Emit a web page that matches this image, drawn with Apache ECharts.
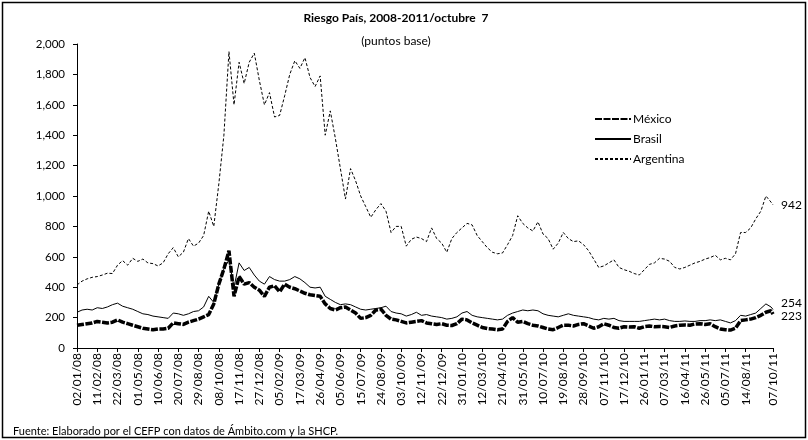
<!DOCTYPE html>
<html>
<head>
<meta charset="utf-8">
<script src="https://cdn.jsdelivr.net/npm/echarts@6/dist/echarts.min.js"></script>
<style>
  html, body { margin: 0; padding: 0; background: #fff; }
  #chart { width: 808px; height: 440px; }
</style>
</head>
<body>
<div id="chart"></div>
<script>
// días transcurridos desde el 02/01/08 (cada 10 días, más el último dato 07/10/11)
const days = [];
for (let d = 0; d <= 1370; d += 10) days.push(d);
days.push(1374);

const mexico = [
  150, 155, 160, 165, 175, 170, 165, 170, 185, 170,
  160, 150, 140, 130, 125, 120, 125, 125, 130, 165,
  160, 155, 170, 180, 190, 205, 220, 290, 420, 520,
  640, 340, 470, 420, 430, 400, 380, 340, 400, 410,
  370, 420, 400, 390, 375, 360, 350, 345, 340, 290,
  260, 250, 265, 270, 250, 230, 195, 200, 215, 250,
  255, 215, 190, 185, 175, 165, 170, 175, 180, 165,
  160, 155, 160, 150, 148, 160, 190, 185, 165, 150,
  135, 128, 125, 120, 125, 175, 200, 170, 175, 160,
  150, 145, 135, 125, 120, 135, 150, 150, 145, 155,
  160, 145, 130, 140, 160, 150, 135, 130, 140, 138,
  140, 130, 140, 145, 140, 142, 140, 135, 145, 150,
  152, 150, 158, 160, 155, 160, 140, 125, 120, 118,
  130, 180, 185, 190, 200, 215, 235, 245, 223
];

const brasil = [
  235, 250, 255, 250, 265, 260, 270, 285, 295, 275,
  265, 255, 240, 225, 220, 210, 205, 200, 195, 230,
  225, 215, 225, 240, 245, 270, 340, 300, 420, 520,
  580, 400, 560, 510, 530, 480, 440, 420, 470, 450,
  440, 440, 450, 470, 455, 430, 400, 395, 400, 340,
  320, 300, 285, 290, 285, 270, 255, 250, 255, 260,
  265, 275, 240, 230, 225, 210, 220, 235, 215, 220,
  210, 205, 200, 190, 195, 205, 230, 240, 215, 205,
  200, 195, 190, 185, 190, 215, 230, 240, 250, 245,
  250, 245, 225, 215, 210, 205, 215, 225, 215, 210,
  205, 200, 190, 185, 195, 190, 195, 180, 175, 175,
  175, 175, 180, 185, 190, 185, 190, 180, 175, 175,
  178, 175, 175, 180, 180, 185, 180, 185, 175, 165,
  180, 215, 210, 220, 230, 260, 290, 270, 254
];

const argentina = [
  415, 440, 455, 465, 470, 480, 492, 490, 545, 575,
  545, 590, 570, 585, 560, 555, 540, 560, 620, 660,
  600, 630, 720, 670, 690, 740, 900, 800, 1080, 1400,
  1950, 1600, 1880, 1740, 1880, 1940, 1760, 1600, 1680, 1520,
  1530, 1660, 1800, 1890, 1840, 1910, 1780, 1720, 1790, 1400,
  1560, 1380, 1180, 980, 1180, 1100, 1000, 930, 860, 910,
  950, 900, 760, 800, 800, 670, 715, 730, 720, 700,
  790, 720, 690, 630, 720, 760, 790, 820, 810, 740,
  700, 660, 630, 620, 625, 680, 740, 870, 820, 790,
  770, 830, 750, 720, 650, 690, 760, 720, 700, 705,
  680, 640, 585, 530, 540, 560, 580, 530, 515, 505,
  490, 480, 515, 550, 560, 590, 585, 570, 530, 520,
  530, 545, 560, 570, 585, 595, 610, 580, 590, 580,
  620, 760, 760, 790, 850, 900, 1000, 960, 942
];

const yTicks = { min: 0, max: 2000, interval: 200 };
const xTicks = { min: 0, max: 1374, interval: 40 };

function pairs(values) {
  return values.map((v, i) => [days[i], v]);
}

function fmtDate(v) {
  const d = new Date(2008, 0, 2 + Math.round(v));
  const dd = String(d.getDate()).padStart(2, '0');
  const mm = String(d.getMonth() + 1).padStart(2, '0');
  const yy = String(d.getFullYear()).slice(2);
  return dd + '/' + mm + '/' + yy;
}

const font = 'Lato, "Liberation Sans", sans-serif';

const myChart = echarts.init(document.getElementById('chart'), null, { renderer: 'canvas' });

const option = {
  backgroundColor: '#fff',
  animation: false,
  textStyle: { fontFamily: font, color: '#000' },
  title: [
    {
      text: 'Riesgo País, 2008-2011/octubre  7',
      left: 391, top: 7, textAlign: 'center',
      textStyle: { fontFamily: font, fontSize: 12, fontWeight: 'bold', color: '#000' }
    },
    {
      text: '(puntos base)',
      left: 391, top: 30, textAlign: 'center',
      textStyle: { fontFamily: font, fontSize: 12, fontWeight: 'normal', color: '#000' }
    },
    {
      text: 'Fuente: Elaborado por el CEFP con datos de Ámbito.com y la SHCP.',
      left: 8, top: 421,
      textStyle: { fontFamily: font, fontSize: 11, fontWeight: 'normal', color: '#000' }
    }
  ],
  legend: {
    orient: 'vertical',
    left: 589, top: 108,
    itemWidth: 36, itemHeight: 10, itemGap: 8,
    itemStyle: { opacity: 0 },
    textStyle: { fontFamily: font, fontSize: 12, color: '#000', padding: [0, 0, 0, -3] },
    data: ['México', 'Brasil', 'Argentina']
  },
  grid: { left: 77, right: 35, top: 44, bottom: 92 },
  xAxis: {
    type: 'value',
    min: xTicks.min, max: xTicks.max, interval: xTicks.interval,
    axisLine: { lineStyle: { color: '#000', width: 1 } },
    axisTick: { show: true, length: 4, lineStyle: { color: '#000' } },
    splitLine: { show: false },
    axisLabel: {
      rotate: 90, margin: 5, fontSize: 12, color: '#000', fontFamily: font,
      showMinLabel: true, showMaxLabel: true, hideOverlap: false,
      formatter: fmtDate
    }
  },
  yAxis: {
    type: 'value',
    min: yTicks.min, max: yTicks.max, interval: yTicks.interval,
    axisLine: { show: true, lineStyle: { color: '#000', width: 1 } },
    axisTick: { show: true, length: 4, lineStyle: { color: '#000' } },
    splitLine: { show: false },
    axisLabel: {
      margin: 12, fontSize: 11.5, color: '#000', fontFamily: font,
      formatter: v => v.toLocaleString('en-US')
    }
  },
  series: [
    {
      name: 'México', type: 'line', data: pairs(mexico),
      symbol: 'none', z: 3,
      lineStyle: { color: '#000', width: 3.5, type: [7, 1.5] },
      itemStyle: { color: '#000' },
      endLabel: { show: true, formatter: p => p.value[1], offset: [0, 2], fontSize: 12, color: '#000', fontFamily: font }
    },
    {
      name: 'Brasil', type: 'line', data: pairs(brasil),
      symbol: 'none', z: 2,
      lineStyle: { color: '#000', width: 1 },
      itemStyle: { color: '#000' },
      endLabel: { show: true, formatter: p => p.value[1], offset: [0, -6], fontSize: 12, color: '#000', fontFamily: font }
    },
    {
      name: 'Argentina', type: 'line', data: pairs(argentina),
      symbol: 'none', z: 1,
      lineStyle: { color: '#000', width: 1, type: [3, 2] },
      itemStyle: { color: '#000' },
      endLabel: { show: true, formatter: p => p.value[1], fontSize: 12, color: '#000', fontFamily: font }
    }
  ],
  graphic: [
    {
      type: 'rect', silent: true, z: -1,
      shape: { x: 2.5, y: 2.5, width: 803, height: 435 },
      style: { fill: 'none', stroke: '#000', lineWidth: 1.5 }
    }
  ]
};

myChart.setOption(option);
</script>
</body>
</html>
